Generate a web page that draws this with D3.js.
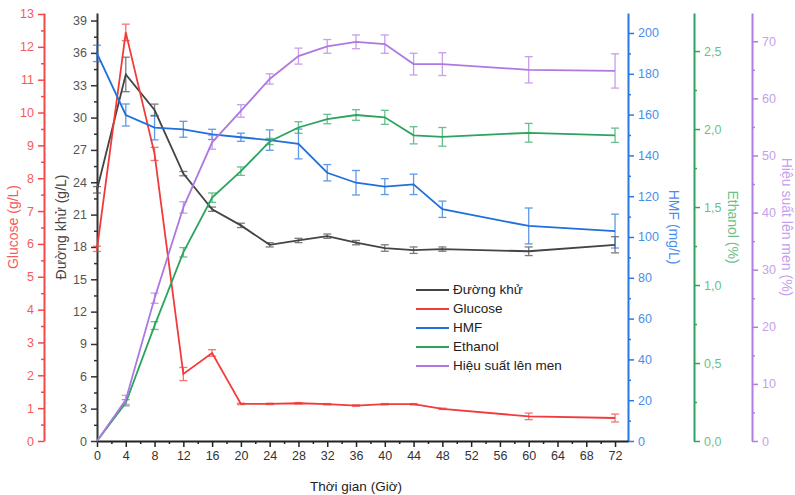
<!DOCTYPE html>
<html>
<head>
<meta charset="utf-8">
<script src="https://cdn.jsdelivr.net/npm/d3@7"></script>
<style>
  body { margin: 0; background: #fff; }
  svg { font-family: "Liberation Sans", Arial, sans-serif; }
</style>
</head>
<body>
<svg id="chart" width="795" height="495"></svg>
<script>
// time points (hours)
const hours = [0, 4, 8, 12, 16, 20, 24, 28, 32, 36, 40, 44, 48, 60, 72];

// Đường khử (g/L)
const duongKhu    = [23.3, 34.0, 30.7, 24.8, 21.5, 20.0, 18.2, 18.6, 19.0, 18.4, 17.9, 17.7, 17.8, 17.6, 18.2];
const duongKhuErr = [0.3, 1.6, 0.55, 0.2, 0.2, 0.2, 0.2, 0.2, 0.2, 0.2, 0.3, 0.3, 0.2, 0.4, 0.75];

// Glucose (g/L)
const glucose    = [5.85, 12.44, 8.74, 2.04, 2.68, 1.13, 1.13, 1.15, 1.12, 1.08, 1.12, 1.12, 0.98, 0.75, 0.7];
const glucoseErr = [0.08, 0.25, 0.2, 0.2, 0.1, 0.02, 0.02, 0.02, 0.02, 0.02, 0.02, 0.02, 0.02, 0.1, 0.12];

// HMF (mg/L)
const hmf    = [190, 159.8, 153.6, 152.8, 150.3, 148.9, 147.5, 145.6, 131.5, 126.6, 124.7, 125.8, 113.6, 105.4, 102.9];
const hmfErr = [4, 5.4, 6, 3.9, 2.5, 2, 5, 7.3, 4, 6, 3.9, 5, 4, 8.8, 8.3];

// Ethanol (%)
const ethanol    = [0, 0.245, 0.74, 1.21, 1.56, 1.73, 1.92, 2.01, 2.064, 2.09, 2.075, 1.96, 1.95, 1.976, 1.96];
const ethanolErr = [0, 0.02, 0.025, 0.03, 0.03, 0.027, 0.02, 0.037, 0.03, 0.034, 0.045, 0.055, 0.06, 0.06, 0.046];

// Hiệu suất lên men (%)
const hieuSuat    = [0, 7.2, 25.0, 40.9, 52.3, 57.8, 63.4, 67.4, 69.1, 69.9, 69.5, 66.0, 66.0, 65.0, 64.8];
const hieuSuatErr = [0, 0.8, 0.9, 1.0, 1.2, 1.1, 0.9, 1.4, 1.2, 1.2, 1.6, 1.9, 2.0, 2.3, 3.0];

const xTicks = d3.range(0, 73, 4);
const legendNames = ["Đường khử", "Glucose", "HMF", "Ethanol", "Hiệu suất lên men"];

const svg = d3.select("#chart");
const plotTop = 13, plotBottom = 441, plotLeft = 97, plotRight = 628;

const x = d3.scaleLinear().domain([0, 73.8]).range([plotLeft, plotRight]);
const yBlack = d3.scaleLinear().domain([0, 39.7]).range([plotBottom, plotTop]);
const yGlu = d3.scaleLinear().domain([0, 13.03]).range([plotBottom, plotTop]);
const yHmf = d3.scaleLinear().domain([0, 209.8]).range([plotBottom, plotTop]);
const yEth = d3.scaleLinear().domain([0, 2.744]).range([plotBottom, plotTop]);
const yPur = d3.scaleLinear().domain([0, 74.95]).range([plotBottom, plotTop]);

const comma = v => d3.format(".1f")(v).replace(".", ",");

// axis helper: major + minor ticks
function drawAxis(opts) {
  const g = svg.append("g").attr("transform", opts.transform);
  const mk = opts.side === "left" ? d3.axisLeft : (opts.side === "right" ? d3.axisRight : d3.axisBottom);
  g.append("g").call(mk(opts.scale).tickValues(opts.minor).tickSize(3).tickFormat(""))
    .call(a => a.selectAll(".tick line").attr("stroke", opts.color).attr("stroke-width", 1.5))
    .call(a => a.select(".domain").remove());
  g.append("g").call(mk(opts.scale).tickValues(opts.major).tickSize(6).tickSizeOuter(0)
      .tickPadding(4).tickFormat(opts.format || (d => d)))
    .call(a => a.select(".domain").attr("stroke", opts.color).attr("stroke-width", 2))
    .call(a => a.selectAll(".tick line").attr("stroke", opts.color).attr("stroke-width", 1.5))
    .call(a => a.selectAll(".tick text").attr("fill", opts.textColor).style("font-size", "12.5px")
      .style("font-family", "Liberation Sans, Arial, sans-serif"));
  return g;
}

// Glucose axis (far left)
drawAxis({ side: "left", scale: yGlu, transform: "translate(44,0)", color: "#f24a4a", textColor: "#f45b5b",
  major: d3.range(0, 13.1, 1), minor: d3.range(0.5, 13, 1) });
// Đường khử axis
drawAxis({ side: "left", scale: yBlack, transform: `translate(${plotLeft},0)`, color: "#333", textColor: "#555",
  major: d3.range(0, 39.1, 3), minor: d3.range(1.5, 39.7, 3) });
// HMF axis
drawAxis({ side: "right", scale: yHmf, transform: `translate(${plotRight},0)`, color: "#2a78e4", textColor: "#4a8eea",
  major: d3.range(0, 201, 20), minor: d3.range(10, 209, 20) });
// Ethanol axis
drawAxis({ side: "right", scale: yEth, transform: "translate(694,0)", color: "#2ea362", textColor: "#6cbf88",
  major: d3.range(0, 2.51, 0.5), minor: d3.range(0.25, 2.74, 0.5), format: comma });
// Hiệu suất axis
drawAxis({ side: "right", scale: yPur, transform: "translate(752,0)", color: "#b07ee2", textColor: "#c6a0ec",
  major: d3.range(0, 71, 10), minor: d3.range(5, 75, 10) });
// x axis
drawAxis({ side: "bottom", scale: x, transform: `translate(0,${plotBottom})`, color: "#222", textColor: "#333",
  major: xTicks, minor: d3.range(2, 73.8, 4) });

// axis titles
function vTitle(text, px, color, rot) {
  svg.append("text").attr("transform", `translate(${px},227) rotate(${rot})`)
    .attr("text-anchor", "middle").attr("dominant-baseline", "middle")
    .attr("fill", color).style("font-size", "14px").text(text);
}
vTitle("Glucose (g/L)", 14, "#f45b5b", -90);
vTitle("Đường khử (g/L)", 62, "#444", -90);
vTitle("HMF (mg/L)", 673, "#4a8eea", 90);
vTitle("Ethanol (%)", 732, "#6cbf88", 90);
vTitle("Hiệu suất lên men (%)", 786, "#c6a0ec", 90);
svg.append("text").attr("x", 356).attr("y", 491).attr("text-anchor", "middle")
  .attr("fill", "#222").style("font-size", "13.5px").text("Thời gian (Giờ)");

// series
const series = [
  { name: legendNames[0], vals: duongKhu, errs: duongKhuErr, y: yBlack, color: "#444444" },
  { name: legendNames[1], vals: glucose, errs: glucoseErr, y: yGlu, color: "#f23a3a" },
  { name: legendNames[2], vals: hmf, errs: hmfErr, y: yHmf, color: "#1f6fdc" },
  { name: legendNames[3], vals: ethanol, errs: ethanolErr, y: yEth, color: "#2ca35e" },
  { name: legendNames[4], vals: hieuSuat, errs: hieuSuatErr, y: yPur, color: "#ae78e2" }
];

series.forEach(s => {
  const pts = hours.map((h, i) => ({ h: h, v: s.vals[i], e: s.errs[i] }));
  const line = d3.line().x(d => x(d.h)).y(d => s.y(d.v));
  svg.append("path").datum(pts).attr("d", line).attr("fill", "none")
    .attr("stroke", s.color).attr("stroke-width", 1.8);
  const eb = svg.append("g").attr("stroke", s.color).attr("stroke-width", 1.3).attr("opacity", 0.7);
  pts.filter(d => d.e > 0).forEach(d => {
    const cx = x(d.h), y1 = s.y(d.v + d.e), y2 = s.y(d.v - d.e);
    eb.append("line").attr("x1", cx).attr("x2", cx).attr("y1", y1).attr("y2", y2);
    eb.append("line").attr("x1", cx - 4).attr("x2", cx + 4).attr("y1", y1).attr("y2", y1);
    eb.append("line").attr("x1", cx - 4).attr("x2", cx + 4).attr("y1", y2).attr("y2", y2);
  });
});

// legend
const legend = svg.append("g").attr("transform", "translate(416,290)");
series.forEach((s, i) => {
  const row = legend.append("g").attr("transform", `translate(0,${i * 19})`);
  row.append("line").attr("x1", 0).attr("x2", 33).attr("y1", 0).attr("y2", 0)
    .attr("stroke", s.color).attr("stroke-width", 1.8);
  row.append("text").attr("x", 37).attr("y", 0).attr("dominant-baseline", "middle")
    .attr("fill", "#222").style("font-size", "13.5px").text(s.name);
});
</script>
</body>
</html>
